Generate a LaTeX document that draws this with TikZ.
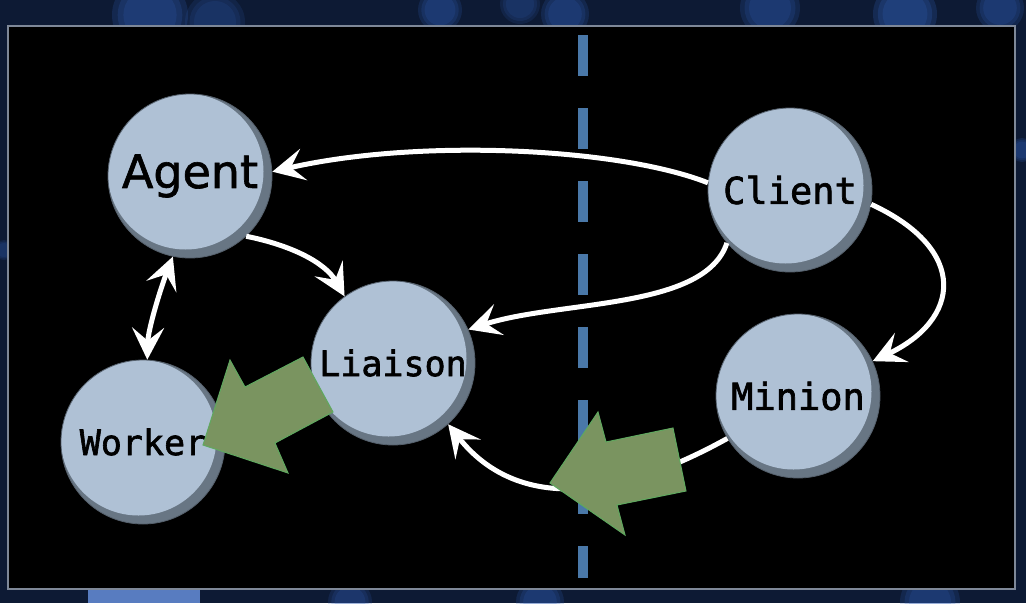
\documentclass[tikz,border=0pt]{standalone}
\usepackage{fontspec}
\setmainfont{DejaVu Sans}[FakeBold=1.4]
\newfontfamily\monof{DejaVu Sans Mono}[FakeBold=1.8]
\usetikzlibrary{arrows.meta}
\definecolor{navy}{HTML}{0D1A34}
\definecolor{bokeh}{HTML}{2F5BB0}
\definecolor{framecol}{HTML}{7E8898}
\definecolor{bubfill}{HTML}{AFC1D5}
\definecolor{bubshade}{HTML}{687684}
\definecolor{bubedge}{HTML}{55606C}
\definecolor{dashcol}{HTML}{4A78A8}
\definecolor{bigfill}{HTML}{7A9460}
\definecolor{bigedge}{HTML}{5FA85F}
\begin{document}
\begin{tikzpicture}[x=1pt,y=-1pt,
  bubble/.style={circle, minimum size=164pt, inner sep=0pt, fill=bubshade, draw=bubedge, line width=0.8pt,
    path picture={\fill[bubfill] ([shift={(-4.5pt,4.5pt)}]path picture bounding box.center) circle (78pt);}},
  agentlbl/.style={font=\fontsize{46}{46}\selectfont},
  monolbl/.style={font=\monof\fontsize{37}{37}\selectfont},
  tip/.tip={Stealth[length=32pt,width=32pt,inset=13pt]},
  link/.style={draw=white, line width=5pt, -tip},
  biglink/.style={fill=bigfill, draw=bigedge, line width=1pt, line join=miter}]
\useasboundingbox (0,0) rectangle (1026,603);
% backdrop
\fill[navy] (0,0) rectangle (1026,603);
\foreach \x/\y/\r/\o in {150/15/38/0.5, 215/22/30/0.35, 440/10/22/0.45, 520/4/20/0.35, 565/14/24/0.45, 770/8/30/0.45, 905/14/32/0.55, 1000/8/24/0.45, 350/602/22/0.4, 540/602/24/0.45, 930/602/30/0.45, 1022/150/12/0.45, 4/250/10/0.35}
  \foreach \k in {1.0,0.85,0.7}
    \fill[bokeh, opacity=\o*0.45] (\x,\y) circle (\r*\k);
\fill[bokeh!80!white] (88,590) rectangle (200,603);
% panel
\fill[black, draw=framecol, line width=2pt] (8,26) rectangle (1015,589);
% divider
\draw[dashcol, line width=10pt, dash pattern=on 41pt off 32pt] (583,35) -- (583,578);
% bubbles
\node[bubble, agentlbl] (agent) at (190,176) {Agent};
\node[bubble, monolbl] (client) at (790,190) {Client};
\node[bubble, monolbl, font=\monof\fontsize{35}{35}\selectfont] (liaison) at (393,363) {Liaison};
\node[bubble, monolbl, font=\monof\fontsize{35}{35}\selectfont] (worker) at (143,442) {Worker};
\node[bubble, monolbl] (minion) at (798,396) {Minion};
% connectors
\draw[link] (client.175) .. controls (620,148) and (420,138) .. (agent.3);
\draw[link] (agent.-47) .. controls (290,245) and (325,262) .. (liaison.126);
\draw[link, tip-tip] (agent.-102) .. controls (160,290) and (148,330) .. (worker.87);
\draw[link] (client.220) .. controls (705,310) and (560,300) .. (liaison.24);
\draw[link] (client.-10) .. controls (970,250) and (960,320) .. (minion.25);
\draw[link] (minion.211) .. controls (580,520) and (500,490) .. (liaison.-48);
% big arrows
\draw[biglink] (303,357) -- (333,412) -- (275,443) -- (288,473) -- (203,445) -- (230,360) -- (245,387) -- cycle;
\draw[biglink] (673,428) -- (686,491) -- (617,505) -- (625,535) -- (550,483) -- (598,412) -- (606,442) -- cycle;
\end{tikzpicture}
\end{document}
